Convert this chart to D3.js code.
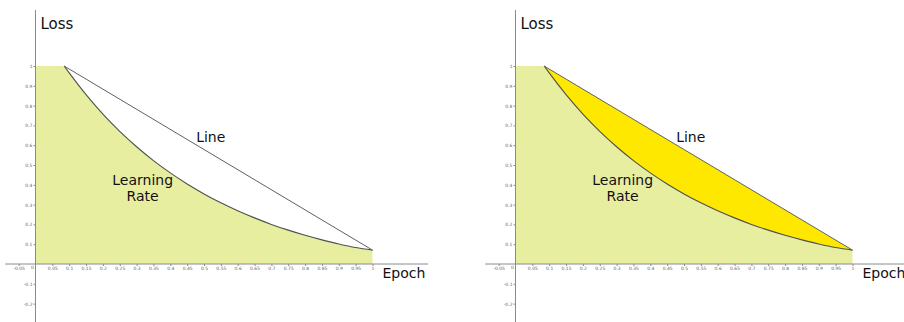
<!DOCTYPE html>
<html>
<head>
<meta charset="utf-8">
<script src="https://cdn.jsdelivr.net/npm/d3@7/dist/d3.min.js"></script>
<style>
  html, body { margin: 0; padding: 0; background: #fff; }
  svg { display: block; }
  text { font-family: "DejaVu Sans", Verdana, sans-serif; }
</style>
</head>
<body>
<svg id="chart" width="904" height="322"></svg>
<script>
// ---- data ----
const epochs = [0, 0.085, 0.1, 0.15, 0.2, 0.25, 0.3, 0.35, 0.4, 0.45, 0.5, 0.55, 0.6, 0.65, 0.7, 0.75, 0.8, 0.85, 0.9, 0.95, 1];
const learningRate = [1, 1, 0.965, 0.855, 0.757, 0.670, 0.592, 0.522, 0.460, 0.404, 0.354, 0.309, 0.269, 0.233, 0.200, 0.171, 0.145, 0.122, 0.101, 0.083, 0.07];
const lineEpochs = [0.085, 1];
const lineLoss = [1, 0.07];
const xTicks = [-0.05, 0.05, 0.1, 0.15, 0.2, 0.25, 0.3, 0.35, 0.4, 0.45, 0.5, 0.55, 0.6, 0.65, 0.7, 0.75, 0.8, 0.85, 0.9, 0.95, 1];
const xTickLabels = ["-0.05", "0.05", "0.1", "0.15", "0.2", "0.25", "0.3", "0.35", "0.4", "0.45", "0.5", "0.55", "0.6", "0.65", "0.7", "0.75", "0.8", "0.85", "0.9", "0.95", "1"];
const yTicks = [-0.2, -0.1, 0.1, 0.2, 0.3, 0.4, 0.5, 0.6, 0.7, 0.8, 0.9, 1];
const yTickLabels = ["-0.2", "-0.1", "0.1", "0.2", "0.3", "0.4", "0.5", "0.6", "0.7", "0.8", "0.9", "1"];
const panels = ["plain", "highlighted"];
const xAxisTitle = "Epoch";
const yAxisTitle = "Loss";
const curveLabel = ["Learning", "Rate"];
const lineLabel = "Line";

// ---- layout ----
const svg = d3.select("#chart");
const panelOffset = 480;
const x = d3.scaleLinear().domain([0, 1]).range([35.5, 372.5]);
const y = d3.scaleLinear().domain([0, 1]).range([264, 66]);
const xMin = -0.09, xMax = 1.165, yMin = -0.3, yMax = 1.283;

const lightFill = "#e7eea0";
const brightFill = "#ffe800";
const axisColor = "#8a8a8a";

const curvePts = epochs.map((e, i) => [e, learningRate[i]]);
const decayPts = curvePts.slice(1);
const linePts = lineEpochs.map((e, i) => [e, lineLoss[i]]);

const area = d3.area().x(d => x(d[0])).y0(y(0)).y1(d => y(d[1])).curve(d3.curveMonotoneX);
const lineGen = d3.line().x(d => x(d[0])).y(d => y(d[1])).curve(d3.curveMonotoneX);
const straight = d3.line().x(d => x(d[0])).y(d => y(d[1]));

panels.forEach((p, pi) => {
  const g = svg.append("g").attr("transform", `translate(${pi * panelOffset},0)`);

  // filled area under learning rate
  g.append("path").attr("d", area(curvePts)).attr("fill", lightFill);

  if (p === "highlighted") {
    const rev = linePts.slice().reverse();
    const d = lineGen(decayPts) + straight(rev).replace(/^M/, "L") + "Z";
    g.append("path").attr("d", d).attr("fill", brightFill);
  }

  // axes
  const xAxis = d3.axisBottom(x).tickValues(xTicks).tickSize(2).tickPadding(1)
    .tickFormat((d, i) => xTickLabels[i]);
  const gx = g.append("g").attr("transform", `translate(0,${y(0)})`).call(xAxis);
  gx.select(".domain").attr("d", `M${x(xMin)},0H${x(xMax)}`);

  const yAxis = d3.axisLeft(y).tickValues(yTicks).tickSize(2).tickPadding(1)
    .tickFormat((d, i) => yTickLabels[i]);
  const gy = g.append("g").attr("transform", `translate(${x(0)},0)`).call(yAxis);
  gy.select(".domain").attr("d", `M0,${y(yMax)}V${y(yMin)}`);

  [gx, gy].forEach(a => {
    a.select(".domain").attr("stroke", axisColor).attr("stroke-width", 1);
    a.selectAll(".tick line").attr("stroke", axisColor);
    a.selectAll(".tick text").attr("fill", "#666").style("font-size", "4.5px")
      .style("font-family", "DejaVu Sans, sans-serif");
  });

  // origin label
  g.append("text").attr("x", x(0) - 3).attr("y", y(0) + 5).attr("text-anchor", "middle")
    .attr("fill", "#666").style("font-size", "4.5px").text("0");

  // curves
  g.append("path").attr("d", lineGen(decayPts)).attr("fill", "none")
    .attr("stroke", "#505050").attr("stroke-width", 1.1);
  g.append("path").attr("d", straight(linePts)).attr("fill", "none")
    .attr("stroke", "#606060").attr("stroke-width", 1);

  // labels
  g.append("text").attr("x", x(0) + 5).attr("y", 29).attr("fill", "#111")
    .style("font-size", "15px").text(yAxisTitle);
  g.append("text").attr("x", x(1) + 10).attr("y", 278).attr("fill", "#111")
    .style("font-size", "14px").text(xAxisTitle);
  g.append("text").attr("x", x(0.52)).attr("y", 141.5).attr("text-anchor", "middle")
    .attr("fill", "#111").style("font-size", "14px").text(lineLabel);
  curveLabel.forEach((t, i) => {
    g.append("text").attr("x", x(0.318)).attr("y", 185 + i * 16).attr("text-anchor", "middle")
      .attr("fill", "#111").style("font-size", "14px").text(t);
  });
});
</script>
</body>
</html>
